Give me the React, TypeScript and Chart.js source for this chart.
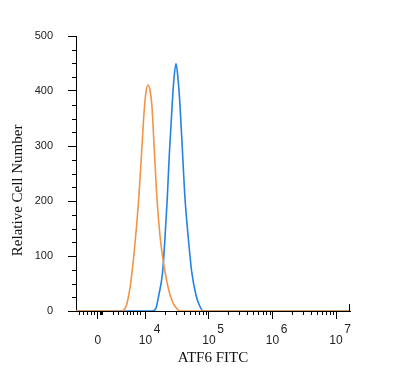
import React, { useEffect, useRef } from "react";
import { Chart, registerables } from "chart.js";

Chart.register(...registerables);

// x positions are in "decade" display units (10^4 -> 4, 10^5 -> 5 ...)
const orangeX = [2.906, 3.62, 3.66, 3.7, 3.73, 3.76, 3.79, 3.82, 3.86, 3.9, 3.94, 3.98, 4.01, 4.044, 4.07, 4.1, 4.14, 4.18, 4.23, 4.27, 4.31, 4.35, 4.39, 4.44, 4.49, 4.55, 7.22];
const orangeY = [0, 0, 2, 10, 25, 45, 72, 105, 155, 215, 290, 365, 400, 411, 402, 375, 290, 205, 135, 98, 70, 46, 28, 13, 5, 0, 0];

const blueX = [2.906, 4.1, 4.16, 4.21, 4.27, 4.307, 4.343, 4.375, 4.42, 4.45, 4.48, 4.51, 4.543, 4.585, 4.622, 4.674, 4.728, 4.795, 4.85, 4.91, 7.22];
const blueY = [0, 0, 4, 29, 71, 133, 205, 284, 375, 425, 450, 425, 375, 284, 205, 133, 71, 29, 10, 0, 0];

const xMin = 2.906;
const xMax = 7.22;
const xTickValues = [3.25, 4, 5, 6, 7];
const xTickBase = ["0", "10", "10", "10", "10"];
const xTickExp = ["", "4", "5", "6", "7"];

const yTickValues = [0, 100, 200, 300, 400, 500];
const yMinorValues = [25, 50, 75, 125, 150, 175, 225, 250, 275, 325, 350, 375, 425, 450, 475];

const xMinorLinear = [2.953, 3.016, 3.079, 3.142, 3.189, 3.283, 3.3, 3.315, 3.488, 3.567, 3.646, 3.709, 3.756, 3.803, 3.866, 3.913];
const logMultipliers = [2, 3, 4, 5, 6, 7, 8, 9];
const logDecades = [4, 5, 6];

const minorTicksPlugin = {
  id: "minorTicks",
  afterDraw(chart: any) {
    const { ctx, chartArea, scales } = chart;
    const x = scales.x;
    const y = scales.y;
    const xMinor: number[] = [...xMinorLinear];
    logDecades.forEach((d) => logMultipliers.forEach((m) => xMinor.push(d + Math.log10(m))));
    ctx.save();
    ctx.strokeStyle = "#000";
    ctx.lineWidth = 1;
    ctx.beginPath();
    yMinorValues.forEach((v) => {
      const py = Math.round(y.getPixelForValue(v)) + 0.5;
      ctx.moveTo(chartArea.left, py);
      ctx.lineTo(chartArea.left - 4, py);
    });
    xMinor.forEach((v) => {
      const px = Math.round(x.getPixelForValue(v)) + 0.5;
      ctx.moveTo(px, chartArea.bottom);
      ctx.lineTo(px, chartArea.bottom + 4);
    });
    const rx = Math.round(chartArea.right) - 0.5;
    ctx.moveTo(rx, chartArea.bottom);
    ctx.lineTo(rx, chartArea.bottom - 7);
    ctx.stroke();
    ctx.restore();
  },
};

export default function App() {
  const ref = useRef<HTMLCanvasElement | null>(null);
  useEffect(() => {
    if (!ref.current) return;
    const chart = new Chart(ref.current, {
      type: "line",
      data: {
        datasets: [
          {
            label: "Isotype",
            data: orangeX.map((xv, i) => ({ x: xv, y: orangeY[i] })),
            borderColor: "#F29446",
            borderWidth: 1.6,
            pointRadius: 0,
            fill: false,
            cubicInterpolationMode: "monotone",
          },
          {
            label: "ATF6",
            data: blueX.map((xv, i) => ({ x: xv, y: blueY[i] })),
            borderColor: "#2382E6",
            borderWidth: 1.6,
            pointRadius: 0,
            fill: false,
            cubicInterpolationMode: "monotone",
          },
        ],
      },
      options: {
        animation: false,
        responsive: true,
        maintainAspectRatio: false,
        layout: { padding: { top: 36, right: 50, left: 0, bottom: 0 } },
        plugins: { legend: { display: false }, tooltip: { enabled: false } },
        scales: {
          x: {
            type: "linear",
            min: xMin,
            max: xMax,
            afterBuildTicks: (s: any) => {
              s.ticks = xTickValues.map((v) => ({ value: v }));
            },
            afterFit: (s: any) => {
              s.height = 67;
            },
            grid: { drawOnChartArea: false, drawTicks: true, tickLength: 8, color: "#000" },
            border: { display: true, color: "#000", width: 1 },
            ticks: {
              autoSkip: false,
              maxRotation: 0,
              padding: 6,
              color: "#222",
              font: { family: "'Liberation Sans', Arial, sans-serif", size: 12, lineHeight: 0.85 },
              callback: (_v: any, i: number) => {
                const exp = xTickExp[i];
                return [exp ? "       " + exp : "", xTickBase[i]];
              },
            },
            title: {
              display: true,
              text: "ATF6 FITC",
              color: "#111",
              padding: { top: 4, bottom: 11 },
              font: { family: "'Liberation Serif', 'Times New Roman', serif", size: 15 },
            },
          },
          y: {
            type: "linear",
            min: 0,
            max: 500,
            afterBuildTicks: (s: any) => {
              s.ticks = yTickValues.map((v) => ({ value: v }));
            },
            afterFit: (s: any) => {
              s.width = 76;
            },
            grid: { drawOnChartArea: false, drawTicks: true, tickLength: 8, color: "#000" },
            border: { display: true, color: "#000", width: 1 },
            ticks: {
              padding: 15,
              color: "#222",
              font: { family: "'Liberation Sans', Arial, sans-serif", size: 11 },
            },
            title: {
              display: true,
              text: "Relative Cell Number         ",
              color: "#111",
              padding: { top: 9, bottom: 0 },
              font: { family: "'Liberation Serif', 'Times New Roman', serif", size: 15 },
            },
          },
        },
      },
      plugins: [minorTicksPlugin],
    });
    return () => chart.destroy();
  }, []);
  return (
    <div style={{ position: "fixed", left: 0, top: 0, width: 400, height: 378, background: "#fff" }}>
      <canvas ref={ref} />
    </div>
  );
}
